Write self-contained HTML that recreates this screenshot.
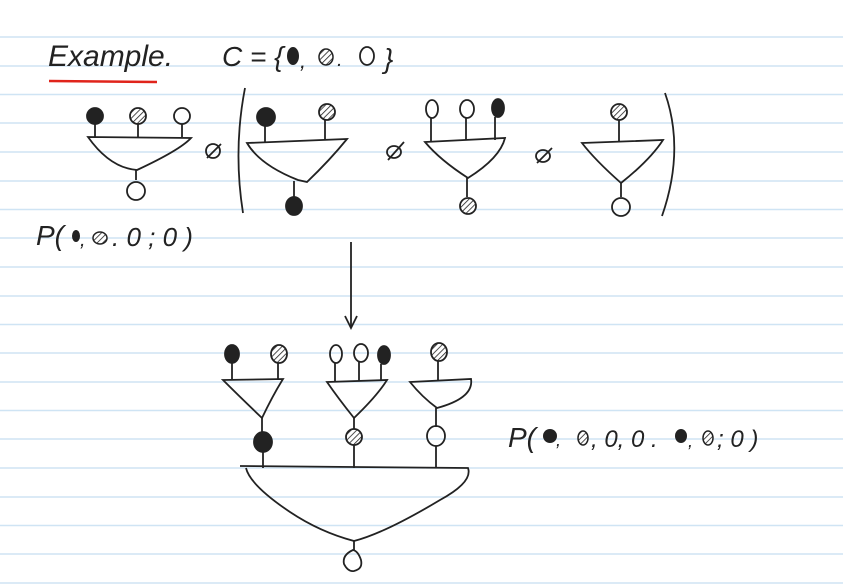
<!DOCTYPE html>
<html><head><meta charset="utf-8"><style>
html,body{margin:0;padding:0;background:#fff;}
svg{display:block;}
text{font-family:"Liberation Sans",sans-serif;font-style:italic;fill:#222;}
</style></head><body>
<svg width="843" height="585" viewBox="0 0 843 585" xmlns="http://www.w3.org/2000/svg">
<defs>
<pattern id="h" width="4" height="4" patternUnits="userSpaceOnUse" patternTransform="rotate(45)">
<rect width="4" height="4" fill="#fff"/><line x1="0" y1="0" x2="0" y2="4" stroke="#222" stroke-width="1.6"/>
</pattern>
</defs>
<g stroke="#cfe4f4" stroke-width="1.5">
<line x1="0" y1="37" x2="843" y2="37"/><line x1="0" y1="66" x2="843" y2="66"/>
<line x1="0" y1="94.5" x2="843" y2="94.5"/><line x1="0" y1="123" x2="843" y2="123"/>
<line x1="0" y1="152" x2="843" y2="152"/><line x1="0" y1="181" x2="843" y2="181"/>
<line x1="0" y1="209.5" x2="843" y2="209.5"/><line x1="0" y1="238" x2="843" y2="238"/>
<line x1="0" y1="267" x2="843" y2="267"/><line x1="0" y1="296" x2="843" y2="296"/>
<line x1="0" y1="324.5" x2="843" y2="324.5"/><line x1="0" y1="353" x2="843" y2="353"/>
<line x1="0" y1="382" x2="843" y2="382"/><line x1="0" y1="410.5" x2="843" y2="410.5"/>
<line x1="0" y1="439" x2="843" y2="439"/><line x1="0" y1="468" x2="843" y2="468"/>
<line x1="0" y1="497" x2="843" y2="497"/><line x1="0" y1="525.5" x2="843" y2="525.5"/>
<line x1="0" y1="554" x2="843" y2="554"/><line x1="0" y1="583" x2="843" y2="583"/>
</g>
<text x="48" y="66" font-size="30" font-family="Liberation Serif">Example.</text>
<path d="M49 81 L157 82" stroke="#e0241b" stroke-width="2.5"/>
<text x="222" y="66" font-size="28">C = {</text>
<ellipse cx="293" cy="56" rx="6" ry="9" fill="#222"/>
<text x="300" y="68" font-size="22">,</text>
<ellipse cx="326" cy="57" rx="7" ry="8" fill="url(#h)" stroke="#222" stroke-width="1.5"/>
<text x="337" y="66" font-size="20">.</text>
<ellipse cx="367" cy="56" rx="7" ry="9" fill="none" stroke="#222" stroke-width="1.8"/>
<text x="384" y="68" font-size="28">}</text>
<g stroke="#222" stroke-width="1.8" fill="none">
<!-- diagram 1 -->
<line x1="95" y1="124" x2="95" y2="137"/><line x1="138" y1="124" x2="138" y2="137"/><line x1="182" y1="124" x2="182" y2="137"/>
<path d="M88 137 L191 138 Q180 150 137 170 Q110 168 88 137 Z"/>
<line x1="136" y1="170" x2="136" y2="180"/>
<circle cx="136" cy="191" r="9"/>
<circle cx="95" cy="116" r="8" fill="#222"/>
<circle cx="138" cy="116" r="8" fill="url(#h)"/>
<circle cx="182" cy="116" r="8"/>
<circle cx="213" cy="151" r="7"/><line x1="207" y1="158" x2="221" y2="144"/>
<path d="M245 88 Q233 150 243 213"/>
<!-- diagram 2 -->
<line x1="265" y1="125" x2="265" y2="142"/><line x1="325" y1="120" x2="325" y2="140"/>
<path d="M247 143 L347 139 Q330 160 307 182 L298 180 Q260 165 247 143 Z"/>
<line x1="294" y1="181" x2="294" y2="197"/>
<ellipse cx="294" cy="206" rx="8" ry="9" fill="#222"/>
<circle cx="266" cy="117" r="9" fill="#222"/>
<circle cx="327" cy="112" r="8" fill="url(#h)"/>
<ellipse cx="394" cy="152" rx="7" ry="6"/><line x1="388" y1="160" x2="404" y2="142"/>
<!-- diagram 3 -->
<ellipse cx="432" cy="109" rx="6" ry="9"/><ellipse cx="467" cy="109" rx="7" ry="9"/><ellipse cx="498" cy="108" rx="6" ry="9" fill="#222"/>
<line x1="431" y1="118" x2="431" y2="141"/><line x1="466" y1="118" x2="466" y2="140"/><line x1="495" y1="117" x2="495" y2="140"/>
<path d="M425 142 L505 138 Q500 158 468 178 Q440 160 425 142 Z"/>
<line x1="467" y1="178" x2="467" y2="197"/>
<circle cx="468" cy="206" r="8" fill="url(#h)"/>
<ellipse cx="543" cy="156" rx="7" ry="6"/><line x1="537" y1="163" x2="552" y2="148"/>
<!-- diagram 4 -->
<circle cx="619" cy="112" r="8" fill="url(#h)"/>
<line x1="619" y1="120" x2="619" y2="142"/>
<path d="M582 143 L663 140 Q650 160 621 183 Q595 160 582 143 Z"/>
<line x1="621" y1="183" x2="621" y2="197"/>
<circle cx="621" cy="207" r="9"/>
<path d="M665 93 Q685 150 662 216"/>
<!-- arrow -->
<line x1="351" y1="242" x2="351" y2="327"/>
<path d="M345 316 L351 328 L357 316"/>
<!-- bottom -->
<ellipse cx="232" cy="354" rx="7" ry="9" fill="#222"/>
<ellipse cx="279" cy="354" rx="8" ry="9" fill="url(#h)"/>
<ellipse cx="336" cy="354" rx="6" ry="9"/><ellipse cx="361" cy="353" rx="7" ry="9"/><ellipse cx="384" cy="355" rx="6" ry="9" fill="#222"/>
<ellipse cx="439" cy="352" rx="8" ry="9" fill="url(#h)"/>
<line x1="232" y1="363" x2="232" y2="379"/><line x1="278" y1="363" x2="278" y2="380"/>
<line x1="335" y1="363" x2="335" y2="381"/><line x1="359" y1="362" x2="359" y2="381"/><line x1="381" y1="364" x2="381" y2="381"/>
<line x1="438" y1="361" x2="438" y2="380"/>
<path d="M223 380 L283 379 Q273 395 262 418 Q240 397 223 380 Z"/>
<path d="M327 382 L387 380 Q377 396 354 418 Q338 398 327 382 Z"/>
<path d="M410 382 L471 379 Q474 398 437 408 Q422 397 410 382 Z"/>
<line x1="262" y1="418" x2="262" y2="433"/><line x1="354" y1="418" x2="354" y2="430"/><line x1="436" y1="408" x2="436" y2="427"/>
<ellipse cx="263" cy="442" rx="9" ry="10" fill="#222"/>
<circle cx="354" cy="437" r="8" fill="url(#h)"/>
<ellipse cx="436" cy="436" rx="9" ry="10"/>
<line x1="263" y1="452" x2="263" y2="468"/><line x1="354" y1="445" x2="354" y2="468"/><line x1="436" y1="446" x2="436" y2="468"/>
<path d="M240 466 L468 468 Q473 482 440 500 Q385 533 354 541 Q320 532 290 512 Q250 485 246 468"/>
<line x1="354" y1="541" x2="354" y2="550"/>
<path d="M353 550 Q342 555 344 564 Q348 572 354 571 Q363 569 361 560 Q358 551 353 550 Z"/>
</g>
<text x="36" y="245" font-size="28">P(</text>
<ellipse cx="76" cy="236" rx="4" ry="6" fill="#222"/>
<text x="80" y="246" font-size="20">,</text>
<ellipse cx="100" cy="238" rx="7" ry="6" fill="url(#h)" stroke="#222" stroke-width="1.5"/>
<text x="112" y="246" font-size="26">. 0 ; 0 )</text>
<text x="508" y="447" font-size="28">P(</text>
<ellipse cx="550" cy="436" rx="7" ry="7" fill="#222"/>
<text x="556" y="446" font-size="18">,</text>
<ellipse cx="583" cy="438" rx="5" ry="7" fill="url(#h)" stroke="#222" stroke-width="1.5"/>
<text x="591" y="447" font-size="24">, 0, 0 .</text>
<ellipse cx="681" cy="436" rx="6" ry="7" fill="#222"/>
<text x="688" y="447" font-size="18">,</text>
<ellipse cx="708" cy="438" rx="5" ry="7" fill="url(#h)" stroke="#222" stroke-width="1.5"/>
<text x="717" y="447" font-size="24">; 0 )</text>
</svg>
</body></html>
